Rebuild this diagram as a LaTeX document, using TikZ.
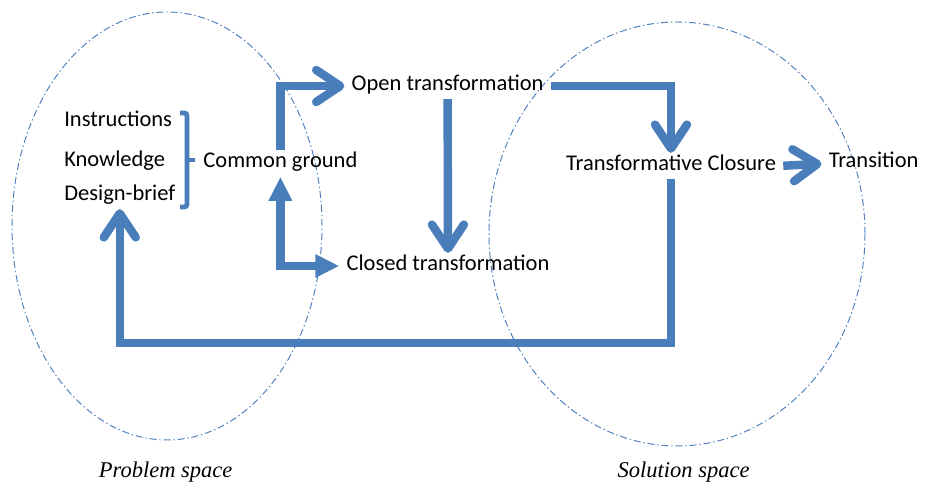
\documentclass[tikz,border=0pt]{standalone}
\usepackage{fontspec}
\setmainfont{Carlito}
\newfontfamily\spacefont{Liberation Serif}
\usetikzlibrary{arrows.meta}
\usetikzlibrary{positioning}

\definecolor{flowblue}{RGB}{74,126,187}
\definecolor{spaceblue}{RGB}{79,129,189}

\begin{document}
\begin{tikzpicture}
			\tikzset{item/.style = {font=\fontsize{16}{19}\selectfont, inner sep=2pt,
					text height=1.5ex, text depth=.25ex}}
			\tikzset{spacename/.style = {font=\spacefont\itshape\fontsize{16}{19}\selectfont}}
			\tikzset{edge/.style = {-{Straight Barb[length=6mm,width=8mm,round]}, flowblue,
					line width=6pt, shorten <=3pt, shorten >=3pt}}
			\tikzset{edgebi/.style = {{Triangle[length=6mm,width=5.5mm]}-{Triangle[length=6mm,width=5.5mm]},
					flowblue, line width=6pt, shorten <=3pt, shorten >=3pt}}
			\tikzset{space/.style = {spaceblue, line width=0.7pt,
					dash pattern=on 5pt off 2pt on 1pt off 2pt}}
			
			\useasboundingbox (0,0) rectangle (23.175,12.05);
			
			% the two spaces
			\draw[space] (4.175,6.4) ellipse (3.875 and 5.35);
			\draw[space] (16.925,6.2) ellipse (4.7 and 5.3);
			
			% vertices
			\node[item, anchor=west] (instr) at (1.53,9.0) {Instructions};
			\node[item, anchor=west] (know) at (1.53,7.985) {Knowledge};
			\node[item, anchor=west] (brief) at (1.53,7.15) {Design-brief};
			\node[item] (cg) at (7.01,7.96) {Common ground};
			\node[item] (open) at (11.19,9.9) {Open transformation};
			\node[item] (closed) at (11.2,5.4) {Closed transformation};
			\node[item] (tc) at (16.775,7.9) {Transformative Closure};
			\node[item] (trans) at (21.84,7.96) {Transition};
			
			\node[spacename] (problem) at (4.14,0.24) {Problem space};
			\node[spacename] (solution) at (17.09,0.24) {Solution space};
			
			% bracket
			\draw[flowblue, line width=3.5pt, rounded corners=2pt]
				(4.5,9.225) -- (4.675,9.225) -- (4.675,6.875) -- (4.5,6.875);
			\draw[flowblue, line width=3.5pt] (4.675,8.05) -- (4.875,8.05);
			
			%edges
			\draw[edge] (cg.north) |- (open.west);
			\draw[edge] (open.south) -- (closed.north);
			\draw[edgebi] (cg.south) |- (closed.west);
			\draw[edge] (open.east) -| (tc.north);
			\draw[edge] (tc.east) -- (trans.west);
			\draw[edge] (tc.south) -- ++(0,-4.2) -| (brief.south);
			
\end{tikzpicture}
\end{document}
